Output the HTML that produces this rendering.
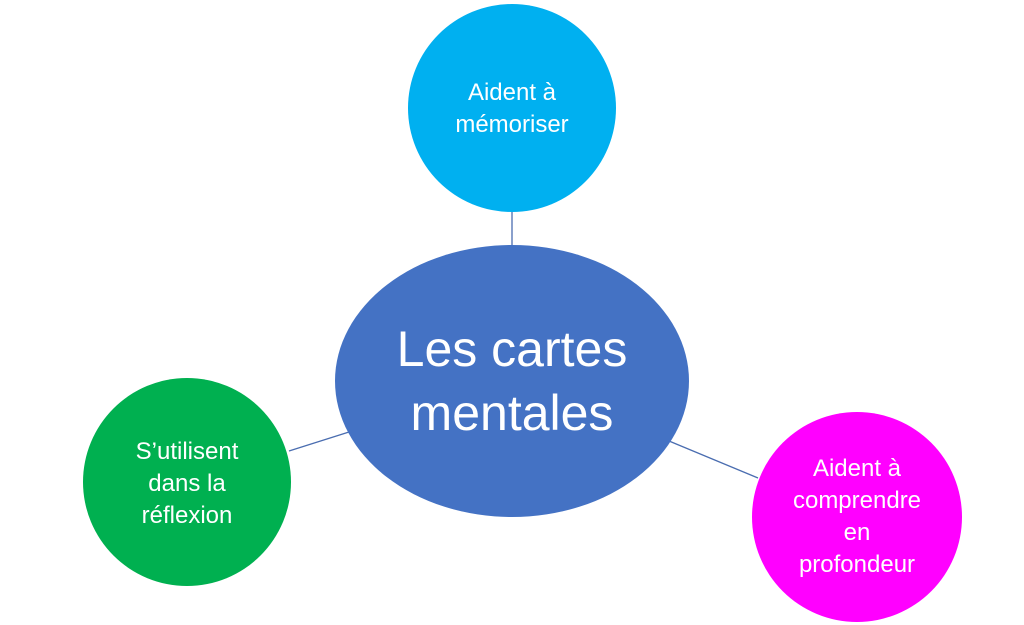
<!DOCTYPE html>
<html><head><meta charset="utf-8"><style>
html,body{margin:0;padding:0;background:#fff;}
svg{display:block}
text{font-family:"Liberation Sans",sans-serif;fill:#fff;text-anchor:middle}
</style></head><body>
<svg width="1024" height="625" viewBox="0 0 1024 625" xmlns="http://www.w3.org/2000/svg">
<rect width="1024" height="625" fill="#fff"/>
<g stroke="#4a6db0" stroke-width="1.3">
<line x1="512" y1="212" x2="512" y2="245"/>
<line x1="289" y1="451" x2="349" y2="432"/>
<line x1="669" y1="441" x2="758" y2="478"/>
</g>
<circle cx="512" cy="108" r="104" fill="#00b0f0"/>
<ellipse cx="512" cy="381" rx="177" ry="136" fill="#4472c4"/>
<circle cx="187" cy="482" r="104" fill="#00b050"/>
<circle cx="857" cy="517" r="105" fill="#ff00ff"/>
<g font-size="24">
<text x="512" y="100">Aident à</text>
<text x="512" y="132">mémoriser</text>
<text x="187" y="459">S’utilisent</text>
<text x="187" y="491">dans la</text>
<text x="187" y="523">réflexion</text>
<text x="857" y="476">Aident à</text>
<text x="857" y="508">comprendre</text>
<text x="857" y="540">en</text>
<text x="857" y="572">profondeur</text>
</g>
<g font-size="50">
<text x="512" y="366">Les cartes</text>
<text x="512" y="430">mentales</text>
</g>
</svg>
</body></html>
